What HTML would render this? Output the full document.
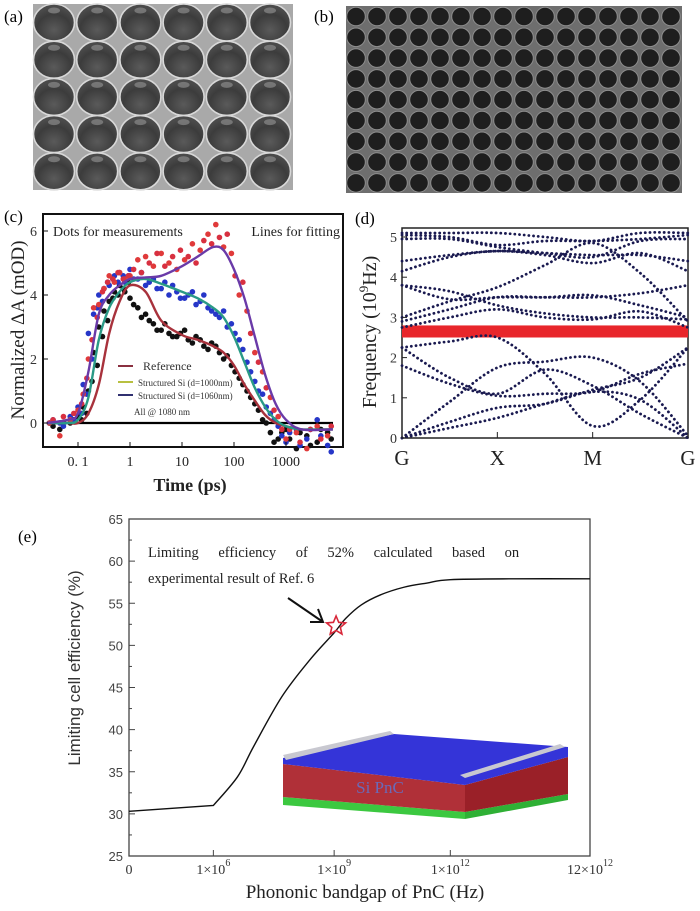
<!DOCTYPE html>
<html><head><meta charset="utf-8"><style>
body{margin:0;background:#fff;}
svg{display:block;}
text{font-family:"Liberation Serif",serif;}
.sans{font-family:"Liberation Sans",sans-serif;}
</style></head><body>
<svg id="fig" width="700" height="911" viewBox="0 0 700 911" xmlns="http://www.w3.org/2000/svg">
<defs>
<radialGradient id="holeA" cx="0.5" cy="0.7" r="0.6"><stop offset="0" stop-color="#5a5a5a"/><stop offset="0.7" stop-color="#3c3c3c"/><stop offset="1" stop-color="#4a4a4a"/></radialGradient>
</defs>
<g id="pa"></g>
<g id="pb"></g>
<g id="pc"></g>
<g id="pd"></g>
<g id="pe"></g>
<text x="4" y="22" font-size="17">(a)</text>
<text x="314" y="22" font-size="17">(b)</text>
<text x="4" y="222" font-size="17">(c)</text>
<text x="355" y="224" font-size="17">(d)</text>
<text x="18" y="542" font-size="17">(e)</text>
</svg>
<script>
// ---------- Panel (c) data ----------
var cTimesLog = [-1.55,-1.35,-1.15,-1.0,-0.9,-0.8,-0.7,-0.6,-0.5,-0.4,-0.3,-0.2,-0.1,0,0.15,0.3,0.45,0.6,0.75,0.9,1.05,1.2,1.35,1.5,1.65,1.8,1.95,2.1,2.25,2.4,2.55,2.7,2.85,3.0,3.2,3.4,3.6,3.8];
var cRedDots   = [0,-0.4,0.1,0.4,0.9,2.0,3.6,3.7,4.2,4.6,4.4,4.7,4.5,4.6,5.1,5.2,4.9,5.3,5.0,4.8,5.1,5.6,5.4,5.9,6.2,5.5,5.3,4.0,3.5,2.2,1.6,0.8,0.2,-0.5,-0.3,-0.8,-0.1,-0.4];
var cBlueDots  = [0,0,0.2,0.5,1.2,2.8,3.4,4.0,4.2,4.3,4.6,4.7,4.4,4.8,4.5,4.3,4.5,4.2,4.0,4.1,3.9,4.1,3.8,3.6,3.4,3.5,3.1,2.6,1.9,1.3,0.9,0.3,-0.1,-0.6,-0.2,-0.5,0.1,-0.7];
var cBlackDots = [0,-0.2,0,0.2,0.5,1.0,2.2,3.0,3.5,3.8,4.1,4.3,4.1,3.9,3.6,3.4,3.1,2.9,2.8,2.7,2.9,2.5,2.6,2.3,2.4,2.0,1.8,1.4,1.0,0.6,0.1,-0.3,-0.5,-0.2,-0.8,-0.4,-0.6,-0.3];
var cRedDots2   = [0.1,0.2,0.3,0.6,1.4,2.6,3.3,4.1,4.4,4.5,4.7,4.5,4.6,4.8,4.7,5.0,5.3,4.9,5.2,5.4,5.2,5.0,5.7,5.6,5.8,5.9,4.6,4.4,2.8,1.9,1.1,0.4,-0.2,-0.2,-0.6,-0.2,-0.5,-0.1];
var cBlueDots2  = [0.1,-0.1,0.1,0.3,0.9,2.0,3.6,3.8,4.4,4.5,4.4,4.6,4.6,4.5,4.7,4.4,4.2,4.4,4.3,3.9,4.0,3.7,4.0,3.5,3.3,3.0,2.8,2.3,1.6,1.0,0.5,0.1,-0.4,-0.3,-0.7,-0.2,-0.4,-0.9];
var cBlackDots2 = [-0.1,0,0.1,0.1,0.3,1.3,1.8,2.7,3.2,3.9,4.0,4.2,4.4,3.7,3.3,3.2,2.9,3.1,2.7,2.8,2.6,2.7,2.4,2.5,2.2,2.1,1.6,1.2,0.8,0.4,0.0,-0.6,-0.3,-0.5,-0.3,-0.7,-0.2,-0.5];
var cFitLog = [-1.6,-1.2,-1.0,-0.8,-0.6,-0.4,-0.2,0,0.3,0.6,1.0,1.3,1.6,1.8,2.0,2.2,2.4,2.6,2.8,3.0,3.3,3.9];
var cFitPurple = [0,0.1,0.3,1.6,3.4,4.0,4.3,4.5,4.55,4.6,4.9,5.2,5.5,5.4,4.8,3.9,2.7,1.5,0.6,0.1,-0.2,-0.2];
var cFitTeal   = [0,0,0.1,0.8,2.6,3.6,4.1,4.4,4.5,4.35,4.1,3.9,3.6,3.3,2.7,1.9,1.1,0.5,0.1,-0.1,-0.2,-0.2];
var cFitMaroon = [0,0,0,0.3,1.2,2.8,3.8,4.3,4.1,3.2,2.75,2.6,2.4,2.2,1.8,1.2,0.7,0.25,0.0,-0.1,-0.2,-0.2];
var cYTicks = [0,2,4,6];
var cXTicks = ["0. 1","1","10","100","1000"];
var cXTickLog = [-1,0,1,2,3];

// ---------- Panel (d) data: bands at G, mid, X, mid, M, mid, G ----------
var dK = [0,0.5,1,1.5,2,2.5,3];
var dBands = [
 [0,0.25,0.5,0.85,1.15,0.95,0],
 [0,0.4,0.75,0.85,1.2,1.5,2.25],
 [0,0.9,1.75,1.9,2.0,1.4,0.05],
 [1.8,1.35,1.05,1.1,1.15,1.6,1.85],
 [2.25,1.5,1.1,1.7,1.3,0.6,0],
 [2.25,2.4,2.5,1.6,0.3,0.95,2.25],
 [2.75,3.0,3.2,3.0,2.95,3.15,2.75],
 [2.9,3.2,3.5,3.5,3.5,3.6,3.8],
 [3.0,3.4,3.75,4.3,4.85,4.1,2.9],
 [3.8,3.45,3.5,3.5,3.55,3.3,3.0],
 [3.8,3.65,3.3,3.1,3.0,3.0,2.95],
 [4.15,4.5,4.65,4.55,4.35,4.6,4.15],
 [4.4,4.55,4.65,4.6,4.55,4.55,4.4],
 [4.95,4.95,4.75,4.6,4.5,4.9,4.95],
 [5.05,5.0,4.8,4.9,4.9,4.95,5.05],
 [5.1,5.1,5.1,5.0,4.9,5.1,5.1]
];
var dGap = [2.5,2.8];
var dYTicks = [0,1,2,3,4,5];
var dXLabels = ["G","X","M","G"];

// ---------- Panel (e) data ----------
var eLogHz = [0,6,6.6,7.0,7.7,8.4,9.0,9.3,9.7,10.2,10.8,11.4,12,12.5,13.08];
var eEff   = [30.3,31.0,34.4,38.0,43.9,48.3,51.5,53.2,54.8,56.0,56.9,57.4,57.8,57.9,57.9];
var eStar = [9.05,52.3];
var eYTicks = [25,30,35,40,45,50,55,60,65];
var eXTickLog = [0,6,9,12,13.08];
var eXTickBase = ["0","1×10","1×10","1×10","12×10"];
var eXTickSup = ["","6","9","12","12"];

var NS="http://www.w3.org/2000/svg";
function mk(parent,tag,attrs,txt){var e=document.createElementNS(NS,tag);for(var k in attrs)e.setAttribute(k,attrs[k]);if(txt!==undefined)e.textContent=txt;parent.appendChild(e);return e;}
function smooth(pts,noMove){var d=(noMove?" L":"M")+pts[0][0]+","+pts[0][1];for(var i=0;i<pts.length-1;i++){var p0=pts[i-1]||pts[i],p1=pts[i],p2=pts[i+1],p3=pts[i+2]||p2;var c1x=p1[0]+(p2[0]-p0[0])/6,c1y=p1[1]+(p2[1]-p0[1])/6,c2x=p2[0]-(p3[0]-p1[0])/6,c2y=p2[1]-(p3[1]-p1[1])/6;d+=" C"+c1x+","+c1y+" "+c2x+","+c2y+" "+p2[0]+","+p2[1];}return d;}

// ---------- Panel (a) ----------
(function(){var g=document.getElementById('pa');
mk(g,'rect',{x:33,y:4,width:260,height:186,fill:'#a9a9a9'});
for(var r=0;r<5;r++)for(var c=0;c<6;c++){var cx=54+c*43.2,cy=22.5+r*37.2;
var h=mk(g,'ellipse',{cx:cx,cy:cy,rx:20.5,ry:18.5,fill:'url(#holeA)',stroke:'#d8d8d8','stroke-width':1.6});


mk(g,'ellipse',{cx:cx,cy:cy-12,rx:6,ry:3,fill:'#8a8a8a',opacity:0.7});}
})();
// ---------- Panel (b) ----------
(function(){var g=document.getElementById('pb');
mk(g,'rect',{x:346,y:6,width:336,height:187,fill:'#6e6e6e'});
for(var r=0;r<9;r++)for(var c=0;c<16;c++){var cx=356+c*21,cy=16.5+r*20.8;
var h=mk(g,'ellipse',{cx:cx,cy:cy,rx:9.3,ry:9.3,fill:'#1e1e1e',stroke:'#8e8e8e','stroke-width':1});

}
})();

// ---------- Panel (c) ----------
(function(){var g=document.getElementById('pc');
var L=43,R=343,T=214,B=447;
function X(lg){return 130+52*lg;}
function Y(v){return 423-32*v;}
mk(g,'rect',{x:L,y:T,width:R-L,height:B-T,fill:'#fff',stroke:'#111','stroke-width':2,});
mk(g,'line',{x1:L+5,x2:R-10,y1:Y(0),y2:Y(0),stroke:'#000','stroke-width':2.2,});
function dots(arr,col){for(var i=0;i<arr.length;i++){var c=mk(g,'circle',{cx:X(cTimesLog[i]),cy:Y(arr[i]),r:2.8,fill:col});

}}
function dots2(arr,col){for(var i=0;i<arr.length;i++){var c=mk(g,'circle',{cx:X(cTimesLog[i]+0.07),cy:Y(arr[i]),r:2.8,fill:col});

}}
dots(cBlackDots,'#111');dots2(cBlackDots2,'#111');
dots(cBlueDots,'#2636c8');dots2(cBlueDots2,'#2636c8');
dots(cRedDots,'#e03a3a');dots2(cRedDots2,'#d83040');
function fit(arr,col,name){var pts=arr.map(function(v,i){return [X(cFitLog[i]),Y(v)];});
var p=mk(g,'path',{d:smooth(pts),fill:'none',stroke:col,'stroke-width':2.4});

}
fit(cFitMaroon,'#a8323c','fit-line-reference');
fit(cFitTeal,'#2a9a86','fit-line-d1000');
fit(cFitPurple,'#6a3aa8','fit-line-d1060');
for(var i=0;i<cYTicks.length;i++){mk(g,'line',{x1:L,x2:L+5,y1:Y(cYTicks[i]),y2:Y(cYTicks[i]),stroke:'#111'});
mk(g,'text',{x:L-6,y:Y(cYTicks[i])+5,'font-size':14,'text-anchor':'end',fill:'#333',},cYTicks[i]);}
for(var i=0;i<cXTicks.length;i++){mk(g,'line',{x1:X(cXTickLog[i]),x2:X(cXTickLog[i]),y1:B,y2:B-5,stroke:'#111'});
mk(g,'text',{x:X(cXTickLog[i]),y:466,'font-size':14,'text-anchor':'middle',fill:'#222',},cXTicks[i]);}
mk(g,'text',{x:53,y:236,'font-size':14,fill:'#222',},'Dots for measurements');
mk(g,'text',{x:340,y:236,'font-size':14,fill:'#222','text-anchor':'end',},'Lines for fitting');
var lg=[['Reference','#8a3040',366,12],['Structured Si (d=1000nm)','#b8c040',382,9],['Structured Si (d=1060nm)','#303070',395,9]];
for(var i=0;i<lg.length;i++){mk(g,'line',{x1:118,x2:133,y1:lg[i][2],y2:lg[i][2],stroke:lg[i][1],'stroke-width':2});
mk(g,'text',{x:i==0?143:138,y:lg[i][2]+4,'font-size':lg[i][3],fill:'#333',},lg[i][0]);}
mk(g,'text',{x:134,y:415,'font-size':9,fill:'#333',},'All @ 1080 nm');
mk(g,'text',{x:0,y:0,'font-size':19,'text-anchor':'middle',fill:'#222',transform:'translate(24,330) rotate(-90)',},'Normalized ΔA (mOD)');
mk(g,'text',{x:190,y:491,'font-size':18,'font-weight':'bold','text-anchor':'middle',fill:'#222',},'Time (ps)');
})();

// ---------- Panel (d) ----------
(function(){var g=document.getElementById('pd');
var L=402,R=688,T=228,B=438;
function X(k){return L+(R-L)*k/3;}
function Y(v){return B-40.2*v;}
mk(g,'rect',{x:L,y:T,width:R-L,height:B-T,fill:'#fff',stroke:'#222','stroke-width':1.5,});
var gap=mk(g,'rect',{x:L,y:Y(dGap[1]),width:R-L,height:Y(dGap[0])-Y(dGap[1]),fill:'#e8262b'});


dBands.forEach(function(b){var pts=b.map(function(v,i){return [X(dK[i]),Y(v)];});
var p=mk(g,'path',{d:smooth(pts),fill:'none',stroke:'#1a1a50','stroke-width':2.8,'stroke-dasharray':'0.1 4.6','stroke-linecap':'round'});

});
for(var i=0;i<dYTicks.length;i++){mk(g,'line',{x1:L,x2:L+5,y1:Y(dYTicks[i]),y2:Y(dYTicks[i]),stroke:'#222'});
mk(g,'text',{x:L-5,y:Y(dYTicks[i])+5,'font-size':14,'text-anchor':'end',fill:'#333',},dYTicks[i]);}
for(var i=0;i<dXLabels.length;i++){mk(g,'line',{x1:X(i),x2:X(i),y1:B,y2:B-6,stroke:'#222'});
mk(g,'text',{x:X(i),y:465,'font-size':21,'text-anchor':'middle',fill:'#222',},dXLabels[i]);}
var t=mk(g,'text',{x:0,y:0,'font-size':20,'text-anchor':'middle',fill:'#222',transform:'translate(376,332) rotate(-90)',});
t.innerHTML='Frequency (10<tspan dy="-8" font-size="13">9</tspan><tspan dy="8">Hz)</tspan>';
})();

// ---------- Panel (e) ----------
(function(){var g=document.getElementById('pe');
var L=129,R=590,T=519,B=856;
var tickFrac=[0,0.183,0.445,0.697,1];
function X(lg){for(var i=0;i<eXTickLog.length-1;i++){if(lg<=eXTickLog[i+1]){var f=tickFrac[i]+(tickFrac[i+1]-tickFrac[i])*(lg-eXTickLog[i])/(eXTickLog[i+1]-eXTickLog[i]);return L+(R-L)*f;}}return R;}
function Y(v){return B-(B-T)*(v-25)/40;}
mk(g,'rect',{x:L,y:T,width:R-L,height:B-T,fill:'#fff',stroke:'#444','stroke-width':1.3,});
for(var v=25;v<=65;v+=2.5){mk(g,'line',{x1:L,x2:L+(v%5==0?6:3),y1:Y(v),y2:Y(v),stroke:'#444'});}
for(var i=0;i<eYTicks.length;i++){mk(g,'text',{x:L-6,y:Y(eYTicks[i])+5,'font-size':13,'text-anchor':'end',fill:'#444','class':'sans',},eYTicks[i]);}
for(var i=0;i<eXTickLog.length;i++){var x=X(eXTickLog[i]);mk(g,'line',{x1:x,x2:x,y1:B,y2:B-6,stroke:'#444'});
var t=mk(g,'text',{x:x,y:874,'font-size':14,'text-anchor':'middle',fill:'#333',});
t.innerHTML=eXTickBase[i]+(eXTickSup[i]?'<tspan dy="-8" font-size="10">'+eXTickSup[i]+'</tspan>':'');}
var pts=eLogHz.map(function(v,i){return [X(v),Y(eEff[i])];});
var d="M"+pts[0][0]+","+pts[0][1]+smooth(pts.slice(1),true);
var p=mk(g,'path',{d:d,fill:'none',stroke:'#111','stroke-width':1.4});


var sx=X(eStar[0]),sy=Y(eStar[1]),s='';for(var k=0;k<10;k++){var a=-Math.PI/2+k*Math.PI/5,rr=k%2?4.5:10;s+=(sx+rr*Math.cos(a))+','+(sy+rr*Math.sin(a))+' ';}
var st=mk(g,'polygon',{points:s,fill:'none',stroke:'#d8283a','stroke-width':1.6});


mk(g,'text',{x:148,y:557,'font-size':14.5,fill:'#222','word-spacing':'16',},'Limiting efficiency of 52% calculated based on');
mk(g,'text',{x:148,y:583,'font-size':14.5,fill:'#222',},'experimental result of Ref. 6');
mk(g,'path',{d:'M288,598 L323,622 M310,622 L323,622 L318,609',fill:'none',stroke:'#111','stroke-width':2,});
var ins=mk(g,'g',{});
mk(ins,'polygon',{points:'283,797 465,812 465,819 283,805',fill:'#3cc840'});
mk(ins,'polygon',{points:'465,812 568,794 568,800 465,819',fill:'#2fb035'});
mk(ins,'polygon',{points:'283,764 465,785 465,812 283,797',fill:'#b03038'});
mk(ins,'polygon',{points:'465,785 568,757 568,794 465,812',fill:'#9a2028'});
mk(ins,'polygon',{points:'283,758 394,734 568,747 568,757 465,785 283,764',fill:'#3434d8'});
mk(ins,'polygon',{points:'283,755 390,731 394,734 286,760',fill:'#c8c8d0'});
mk(ins,'polygon',{points:'460,775 560,744 565,747 465,778',fill:'#c8c8d0'});
mk(ins,'text',{x:380,y:793,'font-size':17,'text-anchor':'middle',fill:'#6a6ab8'},'Si PnC');
mk(g,'text',{x:0,y:0,'font-size':17,'text-anchor':'middle',fill:'#333','class':'sans',transform:'translate(80,668) rotate(-90)',},'Limiting cell efficiency (%)');
mk(g,'text',{x:365,y:898,'font-size':19,'text-anchor':'middle',fill:'#222',},'Phononic bandgap of PnC (Hz)');
})();
</script>
</body></html>
